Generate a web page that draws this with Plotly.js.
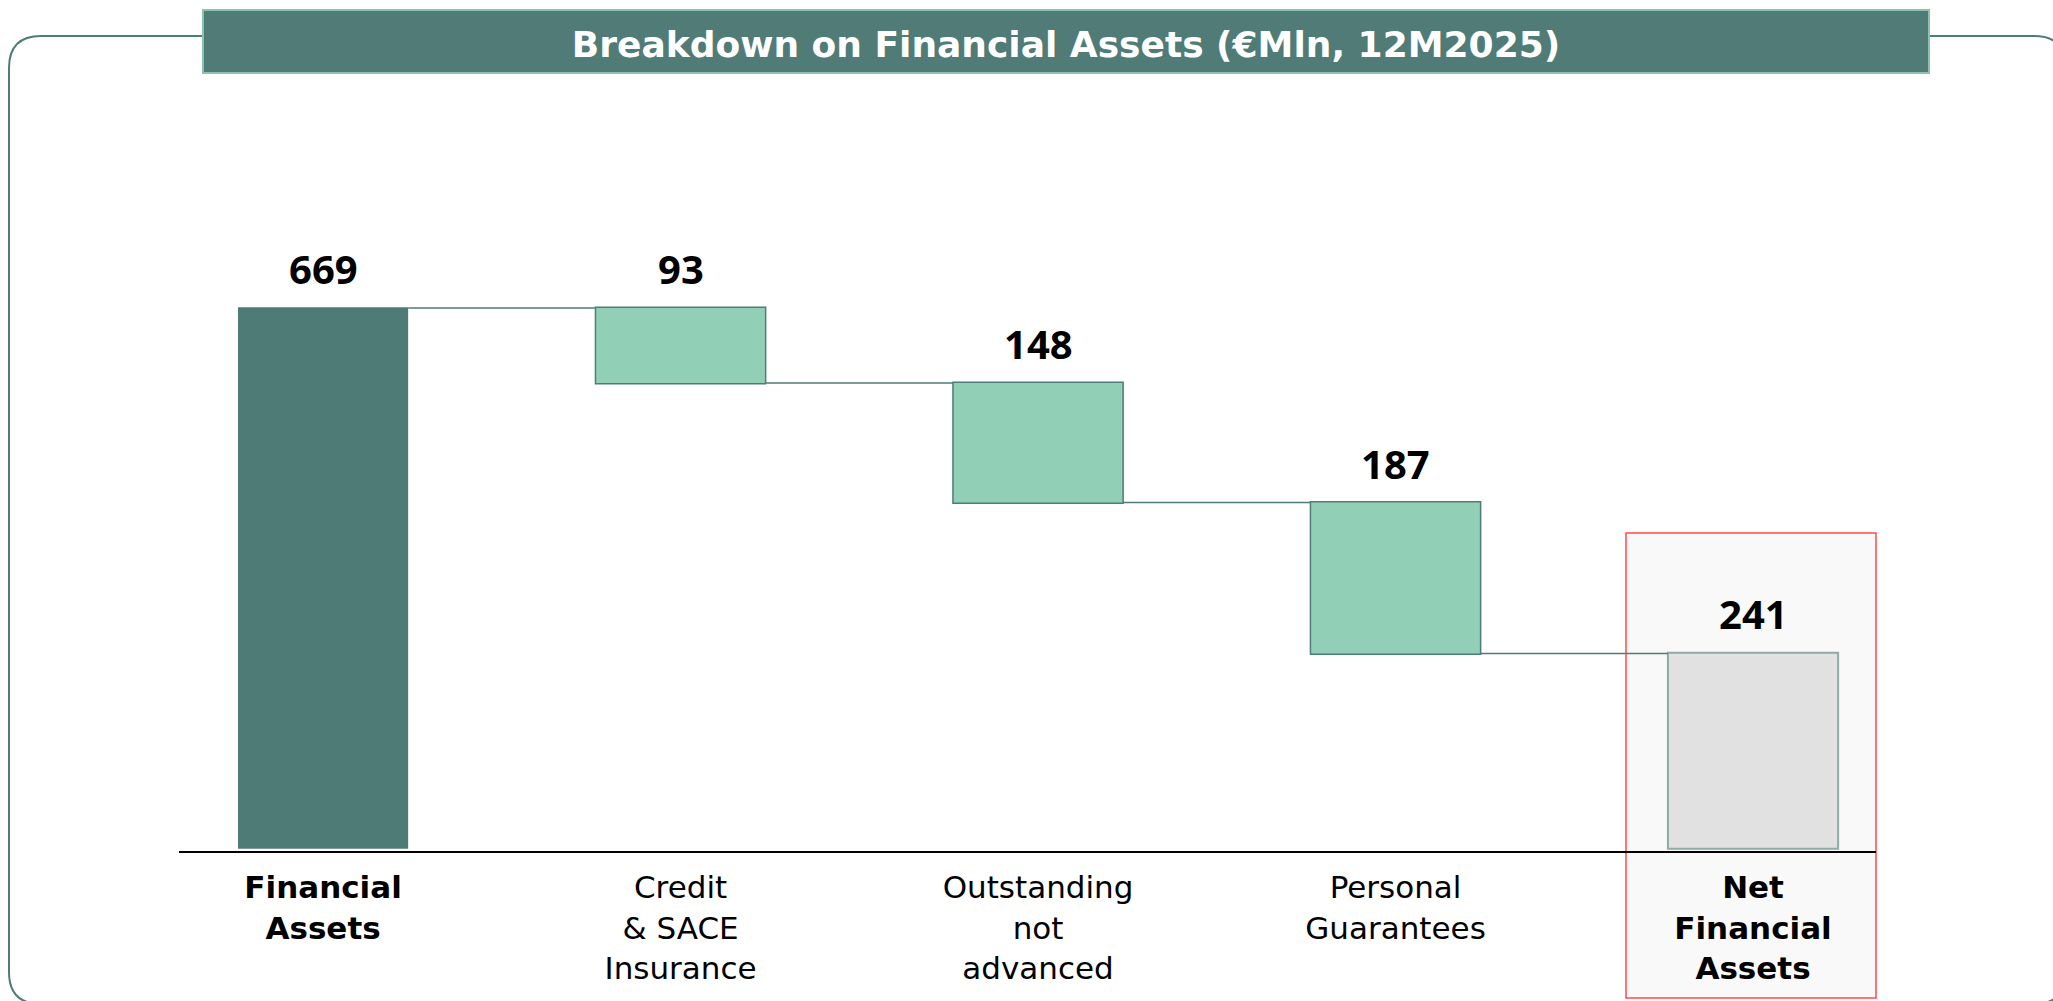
<!DOCTYPE html>
<html>
<head>
<meta charset="utf-8">
<script src="https://cdn.plot.ly/plotly-3.0.1.min.js"></script>
<style>
  html, body { margin: 0; padding: 0; background: #ffffff; }
  #chart { width: 2053px; height: 1001px; }
</style>
</head>
<body>
<div id="chart"></div>
<script>
// dati del grafico (€Mln, 12M2025)
var categories = ["Financial Assets", "Credit & SACE Insurance", "Outstanding not advanced", "Personal Guarantees", "Net Financial Assets"];
var tickLabels = ["<b>Financial<br>Assets</b>", "Credit<br>& SACE<br>Insurance", "Outstanding<br>not<br>advanced", "Personal<br>Guarantees", "<b>Net<br>Financial<br>Assets</b>"];
var steps = [669, -93, -148, -187, 241];
var measures = ["relative", "relative", "relative", "relative", "absolute"];

var W = 2053, H = 1001;
var mL = 179, mR = 177, mT = 100, mB = 150;
var plotW = W - mL - mR, plotH = H - mT - mB;

// pixel -> paper, per le forme fuori dall'area del grafico
function px(x) { return (x - mL) / plotW; }
function py(y) { return (H - mB - y) / plotH; }

var xPos = categories.map(function (c, i) { return i; });

// cima di ogni barra, per le etichette
var tops = [];
var run = 0;
for (var i = 0; i < steps.length; i++) {
  if (measures[i] === "absolute") {
    run = steps[i];
    tops.push(run);
  } else {
    tops.push(Math.max(run, run + steps[i]));
    run += steps[i];
  }
}

var trace = {
  type: "waterfall",
  x: xPos,
  y: steps,
  measure: measures,
  width: 0.476,
  textposition: "none",
  hoverinfo: "skip",
  increasing: { marker: { color: "#4F7B77", line: { color: "#4F7B77", width: 0 } } },
  decreasing: { marker: { color: "#91D0B7", line: { color: "#4E7C76", width: 1.5 } } },
  totals: { marker: { color: "#E1E1E1", line: { color: "#8FABA8", width: 2 } } },
  connector: { line: { color: "#4E7C76", width: 1.5 } }
};

var annotations = [];
for (var j = 0; j < steps.length; j++) {
  annotations.push({
    x: xPos[j], y: tops[j], xref: "x", yref: "y",
    text: "<b>" + Math.abs(steps[j]) + "</b>",
    showarrow: false, yanchor: "bottom", yshift: 10,
    font: { family: "Noto Sans", size: 40, color: "#000000" }
  });
}

// cornice arrotondata
var fx0 = 9, fx1 = 2066, fy0 = 36, fy1 = 1004, r = 32;
var framePath = "M" + px(fx0 + r) + "," + py(fy0) +
  " L" + px(fx1 - r) + "," + py(fy0) +
  " Q" + px(fx1) + "," + py(fy0) + " " + px(fx1) + "," + py(fy0 + r) +
  " L" + px(fx1) + "," + py(fy1 - r) +
  " Q" + px(fx1) + "," + py(fy1) + " " + px(fx1 - r) + "," + py(fy1) +
  " L" + px(fx0 + r) + "," + py(fy1) +
  " Q" + px(fx0) + "," + py(fy1) + " " + px(fx0) + "," + py(fy1 - r) +
  " L" + px(fx0) + "," + py(fy0 + r) +
  " Q" + px(fx0) + "," + py(fy0) + " " + px(fx0 + r) + "," + py(fy0) + " Z";

var shapes = [
  { type: "path", xref: "paper", yref: "paper", layer: "below", path: framePath,
    line: { color: "#4E7C76", width: 2 }, fillcolor: "rgba(0,0,0,0)" },
  { type: "rect", xref: "paper", yref: "paper", layer: "below",
    x0: px(203), x1: px(1929), y0: py(73), y1: py(10),
    fillcolor: "#507B77", line: { color: "#8CC3AA", width: 2 } },
  // riquadro rosso attorno al totale
  { type: "rect", xref: "paper", yref: "paper", layer: "below",
    x0: px(1626), x1: px(1876), y0: py(998), y1: py(533),
    fillcolor: "#F9F9F9", line: { color: "#FF4A4A", width: 1.5 } }
];

var layout = {
  width: W, height: H,
  margin: { l: mL, r: mR, t: mT, b: mB },
  paper_bgcolor: "#ffffff",
  plot_bgcolor: "rgba(0,0,0,0)",
  showlegend: false,
  font: { family: "DejaVu Sans", color: "#000000" },
  title: {
    text: "<b>Breakdown on Financial Assets (€Mln, 12M2025)</b>",
    xref: "container", yref: "container",
    x: 1066 / W, y: 1 - 44 / H, xanchor: "center", yanchor: "middle",
    font: { family: "DejaVu Sans", size: 36, color: "#ffffff" }
  },
  xaxis: {
    type: "linear",
    range: [-0.403, 4.344],
    tickvals: xPos,
    ticktext: tickLabels,
    ticks: "",
    ticklabelstandoff: 8,
    showgrid: false,
    zeroline: false,
    showline: true,
    linecolor: "#000000",
    linewidth: 2,
    tickfont: { family: "DejaVu Sans", size: 31, color: "#000000" },
    fixedrange: true
  },
  yaxis: {
    range: [-3.7, 926.7],
    showgrid: false,
    zeroline: false,
    showticklabels: false,
    fixedrange: true
  },
  shapes: shapes,
  annotations: annotations
};

Plotly.newPlot("chart", [trace], layout, { displayModeBar: false, staticPlot: true });
</script>
</body>
</html>
